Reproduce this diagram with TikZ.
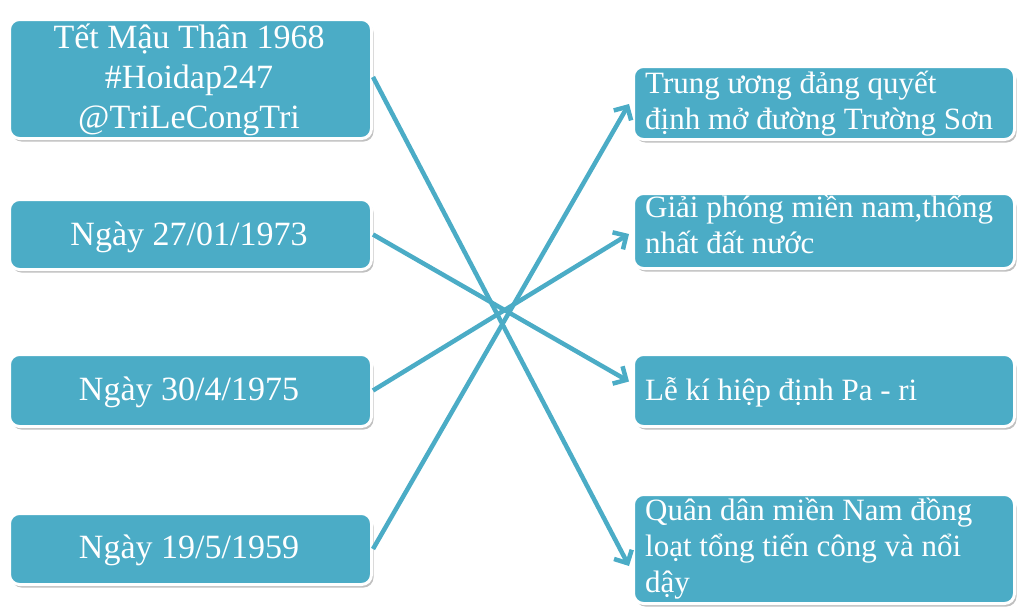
\documentclass[tikz,border=0pt]{standalone}
\usepackage{fontspec}
\setmainfont{Liberation Serif}
\usetikzlibrary{arrows.meta,shadows}
\definecolor{boxc}{RGB}{75,172,198}
\tikzset{
  box/.style={draw=white, line width=3pt, fill=boxc, rounded corners=10pt, inner sep=0pt, anchor=north west,
    drop shadow={shadow xshift=2pt, shadow yshift=-3pt, opacity=.45, fill=black!55}},
  ltext/.style={text=white, inner sep=0pt, anchor=base, align=center, font=\fontsize{34}{40}\selectfont},
  rtext/.style={text=white, inner sep=0pt, anchor=base west, align=left, font=\fontsize{31}{36}\selectfont},
  conn/.style={draw=boxc, line width=4.5pt, -{Straight Barb[length=10pt,width=20pt,line width=4.5pt]}}
}
\begin{document}
\begin{tikzpicture}[x=1pt,y=-1pt]
\useasboundingbox (0,0) rectangle (1024,613);
% left boxes
\node[box, minimum width=362pt, minimum height=119pt] (l1) at (8,18) {};
\node[box, minimum width=362pt, minimum height=70pt] (l2) at (8,198) {};
\node[box, minimum width=362pt, minimum height=72pt] (l3) at (8,353) {};
\node[box, minimum width=362pt, minimum height=71pt] (l4) at (8,512) {};
% right boxes
\node[box, minimum width=381pt, minimum height=73pt] (r1) at (632,65) {};
\node[box, minimum width=381pt, minimum height=75pt] (r2) at (632,192) {};
\node[box, minimum width=381pt, minimum height=72pt] (r3) at (632,353) {};
\node[box, minimum width=381pt, minimum height=109pt] (r4) at (632,493) {};
% texts (base anchor = baseline of last line)
\node[ltext] (t1) at (189,128) {Tết Mậu Thân 1968\\\#Hoidap247\\@TriLeCongTri};
\node[ltext] (t2) at (189,245) {Ngày 27/01/1973};
\node[ltext] (t3) at (189,400) {Ngày 30/4/1975};
\node[ltext] (t4) at (189,558) {Ngày 19/5/1959};
\node[rtext] (u1) at (645,129) {Trung ương đảng quyết\\định mở đường Trường Sơn};
\node[rtext] (u2) at (645,253) {Giải phóng miền nam,thống\\nhất đất nước};
\node[rtext] (u3) at (645,400) {Lễ kí hiệp định Pa - ri};
\node[rtext] (u4) at (645,592) {Quân dân miền Nam đồng\\loạt tổng tiến công và nổi\\dậy};
% connectors
\draw[conn] ([yshift=2pt]l1.east) -- ([xshift=-3pt,yshift=-17pt]r4.west);
\draw[conn] (l2.east) -- ([xshift=-3pt,yshift=9pt]r3.west);
\draw[conn] (l3.east) -- ([xshift=-3pt,yshift=-3pt]r2.west);
\draw[conn] (l4.east) -- ([xshift=-3pt,yshift=-1pt]r1.west);
\end{tikzpicture}
\end{document}
